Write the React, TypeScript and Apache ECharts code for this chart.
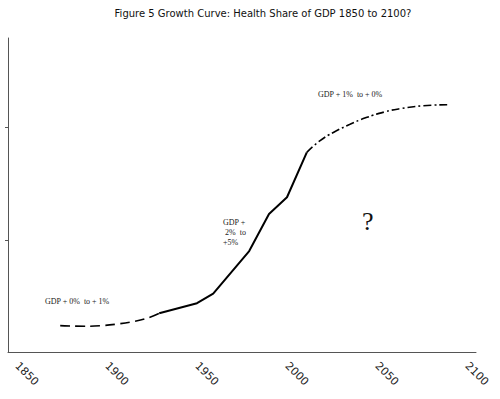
import React, { useEffect, useRef } from "react";
import * as echarts from "echarts";

const title = "Figure 5 Growth Curve: Health Share of GDP 1850 to 2100?";
const xTickLabels = [1850, 1900, 1950, 2000, 2050, 2100];
const yTicks = [10, 20];
const earlyPhase: [number, number][] = [
  [1874, 2.35], [1888, 2.3], [1897, 2.35], [1906, 2.5], [1914, 2.7], [1922, 3.0], [1929, 3.45],
];
const growthPhase: [number, number][] = [
  [1929, 3.45], [1950, 4.35], [1959, 5.2], [1979, 9.0], [1990, 12.3], [2000, 13.8], [2011, 17.8],
];
const futurePhase: [number, number][] = [
  [2011, 17.8], [2018, 18.8], [2026, 19.6], [2035, 20.3], [2044, 20.9], [2054, 21.4], [2063, 21.7], [2075, 21.95], [2089, 22.05],
];
const notes = ["GDP + 0%  to + 1%", "GDP +\n 2%  to\n+5%", "GDP + 1%  to + 0%", "?"];

export default function App() {
  const ref = useRef<HTMLDivElement>(null);
  useEffect(() => {
    const chart = echarts.init(ref.current!, undefined, { renderer: "svg" });
    const serif = "'Liberation Serif', 'DejaVu Serif', serif";
    chart.setOption({
      animation: false,
      backgroundColor: "#fff",
      title: {
        text: title,
        left: 258,
        textAlign: "center",
        top: 3,
        textStyle: { fontFamily: "'DejaVu Sans', sans-serif", fontSize: 10, fontWeight: "normal", color: "#111" },
      },
      grid: { left: 8, right: 24, top: 38, bottom: 47 },
      xAxis: {
        type: "value",
        min: 1845,
        max: 2105,
        splitLine: { show: false },
        axisLine: { lineStyle: { color: "#555", width: 1 } },
        axisTick: { show: false },
        axisLabel: {
          customValues: xTickLabels,
          rotate: -45,
          margin: 12,
          fontFamily: "'DejaVu Sans', sans-serif",
          fontSize: 11,
          color: "#222",
          formatter: (v: number) => String(v),
        },
      },
      yAxis: {
        type: "value",
        min: 0,
        max: 28,
        splitLine: { show: false },
        axisLine: { show: true, lineStyle: { color: "#555", width: 1 } },
        axisTick: { show: true, customValues: yTicks, length: 3, lineStyle: { color: "#555" } },
        axisLabel: { show: false },
      },
      series: [
        {
          type: "line",
          data: earlyPhase,
          smooth: true,
          symbol: "none",
          lineStyle: { color: "#000", width: 1.6, type: [10, 5] },
        },
        {
          type: "line",
          data: growthPhase,
          symbol: "none",
          lineStyle: { color: "#000", width: 2 },
        },
        {
          type: "line",
          data: futurePhase,
          smooth: true,
          symbol: "none",
          lineStyle: { color: "#000", width: 1.6, type: [8, 3, 2, 3] },
        },
      ],
      graphic: [
        { type: "text", left: 45, top: 297, style: { text: notes[0], font: `8px ${serif}`, fill: "#222" } },
        { type: "text", left: 223, top: 217, style: { text: notes[1], font: `8px ${serif}`, fill: "#222", lineHeight: 10 } },
        { type: "text", left: 318, top: 90, style: { text: notes[2], font: `8px ${serif}`, fill: "#222" } },
        { type: "text", left: 362, top: 208, style: { text: notes[3], font: `26px ${serif}`, fill: "#111" } },
      ],
    });
    return () => chart.dispose();
  }, []);
  return <div ref={ref} style={{ position: "fixed", left: 0, top: 0, width: 500, height: 399 }} />;
}
